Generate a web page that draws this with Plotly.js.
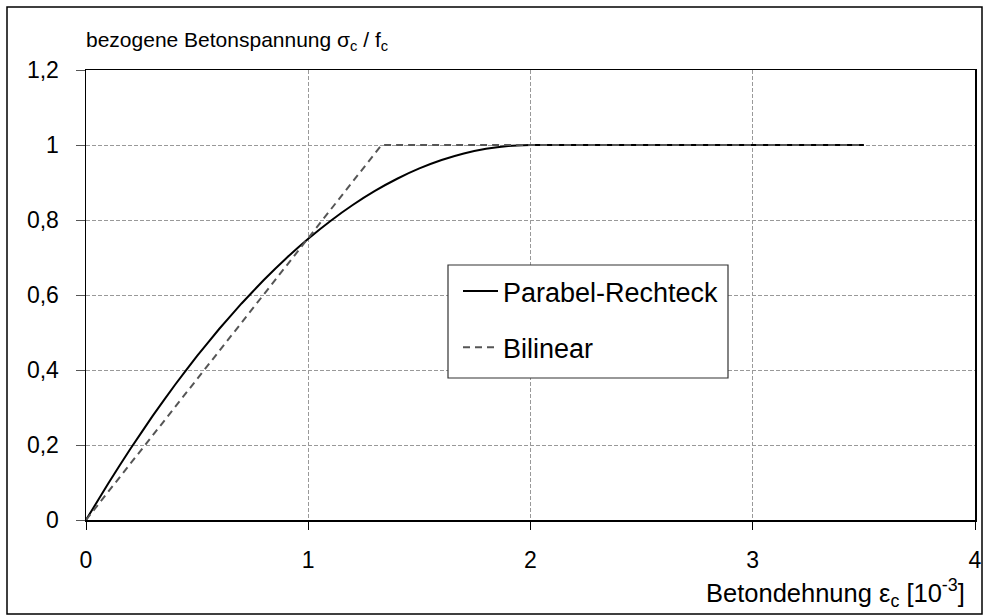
<!DOCTYPE html>
<html>
<head>
<meta charset="utf-8">
<script src="https://cdn.plot.ly/plotly-3.0.1.min.js"></script>
<style>
html,body{margin:0;padding:0;background:#fff;}
#chart{width:984px;height:616px;}
</style>
</head>
<body>
<div id="chart"></div>
<script>
// Parabel-Rechteck (parabola-rectangle) diagram
const parabelStrain = [0, 0.1, 0.2, 0.3, 0.4, 0.5, 0.6, 0.7, 0.8, 0.9, 1.0, 1.1, 1.2, 1.3, 1.4, 1.5, 1.6, 1.7, 1.8, 1.9, 2.0, 3.5];
const parabelStress = [0, 0.0975, 0.19, 0.2775, 0.36, 0.4375, 0.51, 0.5775, 0.64, 0.6975, 0.75, 0.7975, 0.84, 0.8775, 0.91, 0.9375, 0.96, 0.9775, 0.99, 0.9975, 1.0, 1.0];
// Bilinear
const bilinearStrain = [0, 1.33, 3.5];
const bilinearStress = [0, 1.0, 1.0];
// Axis ticks
const xTicks = [0, 1, 2, 3, 4];
const yTicks = [0, 0.2, 0.4, 0.6, 0.8, 1.0, 1.2];

const seriesNames = ['Parabel-Rechteck', 'Bilinear'];
const FONT = 'Arial, "Liberation Sans", sans-serif';

const PW = 889, PH = 450, L = 86, T = 70;
const px2x = p => (p - L) / PW;
const py2y = p => (T + PH - p) / PH;

const traces = [
  {
    x: parabelStrain, y: parabelStress, name: seriesNames[0],
    type: 'scatter', mode: 'lines', line: {color: '#000000', width: 2, shape: 'spline', smoothing: 0.3},
    legendgroup: 'a'
  },
  {
    x: bilinearStrain, y: bilinearStress, name: seriesNames[1],
    type: 'scatter', mode: 'lines', line: {color: '#555555', width: 2, dash: '7px,5px'},
    legendgroup: 'b'
  }
];

const layout = {
  width: 984, height: 616,
  margin: {l: L, r: 984 - L - PW, t: T, b: 616 - T - PH},
  paper_bgcolor: '#ffffff', plot_bgcolor: '#ffffff',
  separators: ', ',
  font: {family: FONT, size: 21, color: '#000000'},
  showlegend: true,
  legend: {
    x: px2x(458), y: py2y(267), xanchor: 'left', yanchor: 'top',
    bgcolor: 'rgba(0,0,0,0)', borderwidth: 0,
    font: {family: FONT, size: 27, color: '#000000'},
    traceorder: 'grouped', tracegroupgap: 18, itemwidth: 35
  },
  xaxis: {
    range: [0, 4], tickvals: xTicks, ticktext: xTicks.map(String),
    showline: true, linecolor: '#000000', linewidth: 1.5, mirror: true,
    ticks: 'outside', ticklen: 8, tickcolor: '#000000', ticklabelstandoff: 11,
    showgrid: true, gridcolor: '#999999', griddash: '4px,2px', gridwidth: 1,
    zeroline: false, tickfont: {family: FONT, size: 23}
  },
  yaxis: {
    range: [0, 1.2], tickvals: yTicks, ticktext: yTicks.map(v => String(v).replace('.', ',')),
    showline: true, linecolor: '#000000', linewidth: 1.5, mirror: true,
    ticks: 'outside', ticklen: 9, tickcolor: '#555555', ticklabelstandoff: 12,
    showgrid: true, gridcolor: '#999999', griddash: '4px,2px', gridwidth: 1,
    zeroline: false, tickfont: {family: FONT, size: 23}
  },
  annotations: [
    {
      xref: 'paper', yref: 'paper', x: px2x(84), y: py2y(56), xanchor: 'left', yanchor: 'bottom',
      text: 'bezogene Betonspannung σ<sub>c</sub> / f<sub>c</sub>', showarrow: false,
      font: {family: FONT, size: 21, color: '#000000'}
    },
    {
      xref: 'paper', yref: 'paper', x: px2x(967), y: py2y(573), xanchor: 'right', yanchor: 'top',
      text: 'Betondehnung ε<sub>c</sub> [10<sup>-3</sup>]', showarrow: false,
      font: {family: FONT, size: 25.5, color: '#000000'}
    }
  ],
  shapes: [
    {
      type: 'rect', xref: 'paper', yref: 'paper',
      x0: px2x(7), x1: px2x(982), y0: py2y(614), y1: py2y(7),
      line: {color: '#000000', width: 1.5}, fillcolor: 'rgba(0,0,0,0)', layer: 'below'
    },
    {
      type: 'rect', xref: 'paper', yref: 'paper',
      x0: px2x(448), x1: px2x(728), y0: py2y(378), y1: py2y(265),
      line: {color: '#333333', width: 1.2}, fillcolor: '#ffffff', layer: 'above'
    }
  ]
};

Plotly.newPlot('chart', traces, layout, {displayModeBar: false, staticPlot: true});
</script>
</body>
</html>
